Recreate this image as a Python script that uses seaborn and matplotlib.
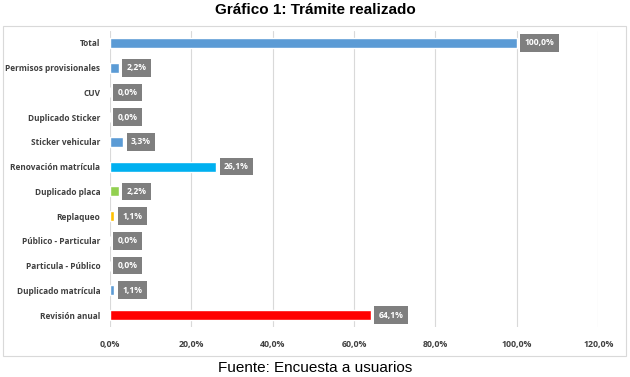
import matplotlib
matplotlib.use("Agg")
import matplotlib.pyplot as plt
import seaborn as sns
import pandas as pd
from matplotlib.patches import Rectangle
from matplotlib.ticker import FuncFormatter

categories = ["Total", "Permisos provisionales", "CUV", "Duplicado Sticker",
              "Sticker vehicular", "Renovación matrícula", "Duplicado placa",
              "Replaqueo", "Público - Particular", "Particula - Público",
              "Duplicado matrícula", "Revisión anual"]
values = [100.0, 2.2, 0.0, 0.0, 3.3, 26.1, 2.2, 1.1, 0.0, 0.0, 1.1, 64.1]
colors = ["#5B9BD5", "#5B9BD5", "#5B9BD5", "#5B9BD5", "#5B9BD5", "#00B0F0",
          "#92D050", "#FFC000", "#5B9BD5", "#5B9BD5", "#5B9BD5", "#FF0000"]
xticks = [0, 20, 40, 60, 80, 100, 120]

df = pd.DataFrame({"cat": categories, "val": values})

sns.set_theme(style="white")
plt.rcParams["font.family"] = ["Open Sans", "DejaVu Sans"]

fig = plt.figure(figsize=(6.3, 3.77), dpi=100)
ax = fig.add_axes([0.1746, 0.1316, 0.775, 0.7872])

sns.barplot(data=df, y="cat", x="val", hue="cat", order=categories,
            palette=dict(zip(categories, colors)), orient="h", width=0.4,
            legend=False, ax=ax, saturation=1)

ax.set_xlim(0, 120)
ax.set_ylim(11.5, -0.5)
ax.set_xticks(xticks)
ax.xaxis.set_major_formatter(FuncFormatter(lambda v, p: f"{v:.1f}%".replace(".", ",")))
ax.grid(axis="x", color="#D9D9D9", linewidth=0.8)
ax.set_axisbelow(True)
for s in ax.spines.values():
    s.set_visible(False)
ax.set_xlabel("")
ax.set_ylabel("")
ax.tick_params(axis="y", length=0, pad=7, labelsize=5.95, labelcolor="#404040")
ax.tick_params(axis="x", length=0, pad=9, labelsize=6.3, labelcolor="#404040")
for lab in ax.get_xticklabels() + ax.get_yticklabels():
    lab.set_fontweight("bold")

for i, v in enumerate(values):
    ax.text(v + 1.9, i, f"{v:.1f}%".replace(".", ","), va="center", ha="left",
            fontsize=6.2, color="white", fontweight="bold",
            bbox=dict(boxstyle="square,pad=0.5", fc="#7F7F7F", ec="none"))

fig.patches.append(Rectangle((3 / 630, 1 - 356 / 377), 623 / 630, 330 / 377,
                             transform=fig.transFigure, fill=False,
                             ec="#D9D9D9", lw=0.8))

fig.text(0.5, 1 - 10 / 377, "Gráfico 1: Trámite realizado", ha="center", va="center",
         fontsize=11, fontweight="bold", family="Liberation Sans", color="#000000")
fig.text(0.5, 1 - 368 / 377, "Fuente: Encuesta a usuarios", ha="center", va="center",
         fontsize=11, family="Liberation Sans", color="#000000")

fig.savefig("out.png", dpi=100)
